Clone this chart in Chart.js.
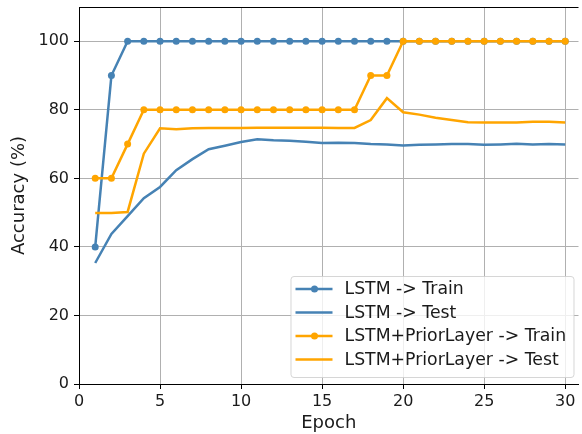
<!DOCTYPE html>
<html lang="en">
<head>
    <meta charset="UTF-8">
    <title>LSTM Accuracy per Epoch</title>
    <style>
        html, body { margin: 0; padding: 0; background: #fff; overflow: hidden; }
        canvas { display: block; }
    </style>
</head>
<body>
    <canvas id="accChart" width="582" height="434" aria-label="Accuracy per epoch" role="img"></canvas>

    <script src="https://cdn.jsdelivr.net/npm/chart.js"></script>
    <script>
    const epochs = [1, 2, 3, 4, 5, 6, 7, 8, 9, 10, 11, 12, 13, 14, 15, 16, 17, 18, 19, 20, 21, 22, 23, 24, 25, 26, 27, 28, 29, 30];
    const lstmTrain = [40, 90, 100, 100, 100, 100, 100, 100, 100, 100, 100, 100, 100, 100, 100, 100, 100, 100, 100, 100, 100, 100, 100, 100, 100, 100, 100, 100, 100, 100];
    const lstmTest = [35.3, 43.8, 49, 54.2, 57.5, 62.4, 65.6, 68.5, 69.5, 70.6, 71.4, 71.1, 71, 70.7, 70.3, 70.4, 70.3, 70, 69.9, 69.6, 69.8, 69.9, 70, 70, 69.8, 69.9, 70.1, 69.9, 70, 69.9];
    const priorTrain = [60, 60, 70, 80, 80, 80, 80, 80, 80, 80, 80, 80, 80, 80, 80, 80, 80, 90, 90, 100, 100, 100, 100, 100, 100, 100, 100, 100, 100, 100];
    const priorTest = [49.9, 49.9, 50.2, 67.2, 74.6, 74.3, 74.6, 74.7, 74.7, 74.7, 74.8, 74.8, 74.8, 74.8, 74.8, 74.7, 74.7, 77, 83.4, 79.3, 78.6, 77.7, 77, 76.4, 76.3, 76.3, 76.3, 76.5, 76.5, 76.3];
    const seriesLabels = ['LSTM -> Train', 'LSTM -> Test', 'LSTM+PriorLayer -> Train', 'LSTM+PriorLayer -> Test'];
    const xTicks = [0, 5, 10, 15, 20, 25, 30];
    const yTicks = [0, 20, 40, 60, 80, 100];

    const BLUE = '#4682b4';
    const ORANGE = '#ffa500';
    const FONT = 'DejaVu Sans';

    function pts(values) {
        return epochs.map((e, i) => ({ x: e, y: values[i] }));
    }

    // matplotlib-style legend inside the lower right corner + top spine
    const boxLegend = {
        id: 'boxLegend',
        afterDraw(chart) {
            const ctx = chart.ctx;
            const area = chart.chartArea;
            ctx.save();
            // top spine
            ctx.strokeStyle = '#000';
            ctx.lineWidth = 1;
            ctx.beginPath();
            ctx.moveTo(area.left, area.top + 0.5);
            ctx.lineTo(area.right, area.top + 0.5);
            ctx.stroke();

            const right = area.right - 5, bottom = area.bottom - 7;
            const w = 283, h = 101;
            const left = right - w, top = bottom - h;
            ctx.globalAlpha = 0.8;
            ctx.fillStyle = '#fff';
            ctx.strokeStyle = '#cccccc';
            ctx.beginPath();
            ctx.roundRect(left + 0.5, top + 0.5, w, h, 3);
            ctx.fill();
            ctx.stroke();
            ctx.globalAlpha = 1;

            ctx.font = '17.3px "' + FONT + '"';
            ctx.textBaseline = 'middle';
            chart.data.datasets.forEach((ds, i) => {
                const y = top + 13 + i * 23.5;
                ctx.strokeStyle = ds.borderColor;
                ctx.lineWidth = 2.5;
                ctx.beginPath();
                ctx.moveTo(left + 5, y);
                ctx.lineTo(left + 42, y);
                ctx.stroke();
                if (ds.pointRadius > 0) {
                    ctx.fillStyle = ds.borderColor;
                    ctx.beginPath();
                    ctx.arc(left + 24, y, 3.5, 0, Math.PI * 2);
                    ctx.fill();
                }
                ctx.fillStyle = '#1a1a1a';
                ctx.fillText(ds.label, left + 54, y + 1);
            });
            ctx.restore();
        }
    };

    const ctx = document.getElementById('accChart').getContext('2d');
    new Chart(ctx, {
        type: 'line',
        data: {
            datasets: [
                { label: seriesLabels[0], data: pts(lstmTrain), borderColor: BLUE, backgroundColor: BLUE, pointRadius: 3.5, order: 4 },
                { label: seriesLabels[1], data: pts(lstmTest), borderColor: BLUE, backgroundColor: BLUE, pointRadius: 0, order: 3 },
                { label: seriesLabels[2], data: pts(priorTrain), borderColor: ORANGE, backgroundColor: ORANGE, pointRadius: 3.5, order: 2 },
                { label: seriesLabels[3], data: pts(priorTest), borderColor: ORANGE, backgroundColor: ORANGE, pointRadius: 0, order: 1 }
            ]
        },
        options: {
            responsive: false,
            animation: false,
            elements: {
                line: { borderWidth: 2.5, tension: 0 },
                point: { borderWidth: 0, hoverRadius: 3.5 }
            },
            layout: { padding: { top: 7, right: 0, left: 0, bottom: 0 } },
            plugins: {
                legend: { display: false },
                tooltip: { enabled: false }
            },
            scales: {
                x: {
                    type: 'linear',
                    min: 0,
                    max: 30.82,
                    afterBuildTicks: axis => { axis.ticks = xTicks.map(v => ({ value: v })); },
                    afterFit: axis => { axis.height = 50; axis.paddingLeft = 0; axis.paddingRight = 0; },
                    grid: { color: '#b0b0b0', lineWidth: 1, tickColor: '#000', tickLength: 5 },
                    border: { color: '#000', width: 1 },
                    ticks: { font: { family: FONT, size: 16 }, color: '#1a1a1a', padding: 3, maxRotation: 0 },
                    title: { display: true, text: 'Epoch', font: { family: FONT, size: 18 }, color: '#1a1a1a', padding: { top: 0, bottom: 0 } }
                },
                y: {
                    min: 0,
                    max: 110,
                    afterBuildTicks: axis => { axis.ticks = yTicks.map(v => ({ value: v })); },
                    afterFit: axis => { axis.width = 79; axis.paddingTop = 0; axis.paddingBottom = 0; },
                    grid: { color: '#b0b0b0', lineWidth: 1, tickColor: '#000', tickLength: 5 },
                    border: { color: '#000', width: 1 },
                    ticks: { font: { family: FONT, size: 16 }, color: '#1a1a1a', padding: 5 },
                    title: { display: true, text: 'Accuracy (%)', font: { family: FONT, size: 18 }, color: '#1a1a1a', padding: { top: 9, bottom: 0 } }
                }
            }
        },
        plugins: [boxLegend]
    });
    </script>
</body>
</html>
